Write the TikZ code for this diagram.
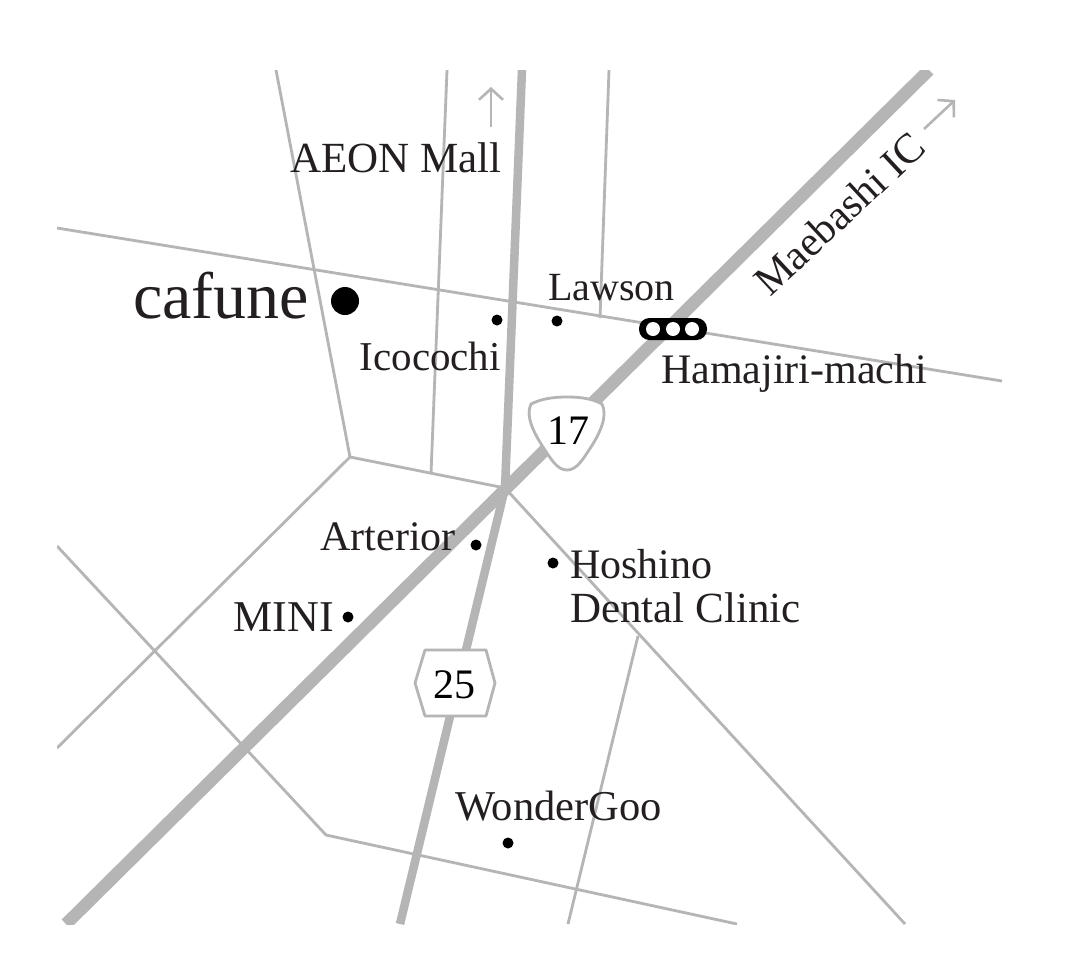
\documentclass[tikz,border=0pt]{standalone}
\usepackage{fontspec}
\setmainfont{Liberation Serif}
\usetikzlibrary{arrows.meta}
\definecolor{roadgray}{HTML}{B5B5B5}
\definecolor{ink}{HTML}{231F20}
\newcommand{\fsz}[1]{\fontsize{#1}{#1}\selectfont}
\tikzset{
  thinroad/.style={draw=roadgray,line width=2.8pt,line join=miter},
  thickroad/.style={draw=roadgray,line width=8.5pt},
  wideroad/.style={draw=roadgray,line width=12.5pt},
  shieldbox/.style={draw=roadgray,line width=2.8pt,fill=white,line join=round},
  spot/.style={circle,fill=black,inner sep=0pt,minimum size=11pt},
  bigspot/.style={circle,fill=black,inner sep=0pt,minimum size=28pt},
  lamp/.style={circle,fill=white,inner sep=0pt,minimum size=14pt},
  lab/.style={text=ink,inner sep=0pt,font=\fsz{42}},
  num/.style={text=black,inner sep=0pt,font=\fsz{42}},
  pointer/.style={draw=roadgray,line width=2.6pt,-{Straight Barb[length=11pt,width=24pt,line width=2.6pt]}}
}
\begin{document}
\begin{tikzpicture}[x=1pt,y=-1pt]
\useasboundingbox (0,0) rectangle (1071,970);
\fill[white] (0,0) rectangle (1071,970);
\begin{scope}
\clip (57,70) rectangle (1002,924);
\draw[thinroad] (276,70) -- (350,457) -- (505,488);
\draw[thinroad] (350,457) -- (57,748);
\draw[thinroad] (57,228) -- (1002,381);
\draw[thinroad] (447,70) -- (431,474);
\draw[thinroad] (609,70) -- (600,318);
\draw[thinroad] (505,488) -- (905,924);
\draw[thinroad] (57,546) -- (326,835) -- (737,924);
\draw[thinroad] (638,636) -- (568,924);
\draw[thickroad] (522,70) -- (505,488) -- (400,924);
\draw[wideroad] (929,70) -- (66,924);
\end{scope}
% route shields
\path[shieldbox] (415,683) -- (425,650) -- (486,650) -- (495,683) -- (486,716) -- (425,716) -- cycle;
\path[shieldbox] (567,397) .. controls (582,397) and (593,399) .. (602,404)
  .. controls (608,416) and (600,433) .. (591,447)
  .. controls (583,459) and (577,470) .. (567,470)
  .. controls (557,470) and (551,459) .. (543,447)
  .. controls (534,433) and (525,416) .. (531,404)
  .. controls (541,399) and (552,397) .. (567,397) -- cycle;
\node[num] (n25) at (454,685) {25};
\node[num] (n17) at (568,431) {17};
% traffic light
\fill[black,rounded corners=10.5pt] (639,318) rectangle (707,340);
\node[lamp] (l1) at (653,329) {};
\node[lamp] (l2) at (673,329) {};
\node[lamp] (l3) at (692,329) {};
% spots
\node[bigspot] (scafune) at (345,301) {};
\node[spot] (sico) at (497,320) {};
\node[spot] (slaw) at (557,321) {};
\node[spot] (sart) at (476,545) {};
\node[spot] (shos) at (553,563) {};
\node[spot] (smini) at (348,617) {};
\node[spot] (swon) at (508,843) {};
% labels
\node[lab,font=\fsz{66},anchor=base west] (tcaf) at (133,318) {cafune};
\node[lab,font=\fsz{43},anchor=base east] (taeon) at (502,172) {AEON Mall};
\node[lab,font=\fsz{40},anchor=base west] (tlaw) at (548,300) {Lawson};
\node[lab,font=\fsz{41},anchor=base east] (tico) at (501,370) {Icocochi};
\node[lab,anchor=base west] (tham) at (661,383) {Hamajiri-machi};
\node[lab,anchor=base east] (tart) at (456,550) {Arterior};
\node[lab,anchor=base west] (thos) at (570,578) {Hoshino};
\node[lab,font=\fsz{43},anchor=base west] (tden) at (570,622) {Dental Clinic};
\node[lab,font=\fsz{44},anchor=base east] (tmin) at (334,631) {MINI};
\node[lab,font=\fsz{42.5},anchor=base west] (twon) at (455,820) {WonderGoo};
\node[lab,font=\fsz{42},rotate=43,anchor=base west] (tmae) at (770,298) {Maebashi IC};
% pointers
\coordinate (a1s) at (491,127);
\coordinate (a1e) at (491,87);
\coordinate (a2s) at (924,129);
\coordinate (a2e) at (955,100);
\draw[pointer] (a1s) -- (a1e);
\draw[pointer] (a2s) -- (a2e);
\end{tikzpicture}
\end{document}
